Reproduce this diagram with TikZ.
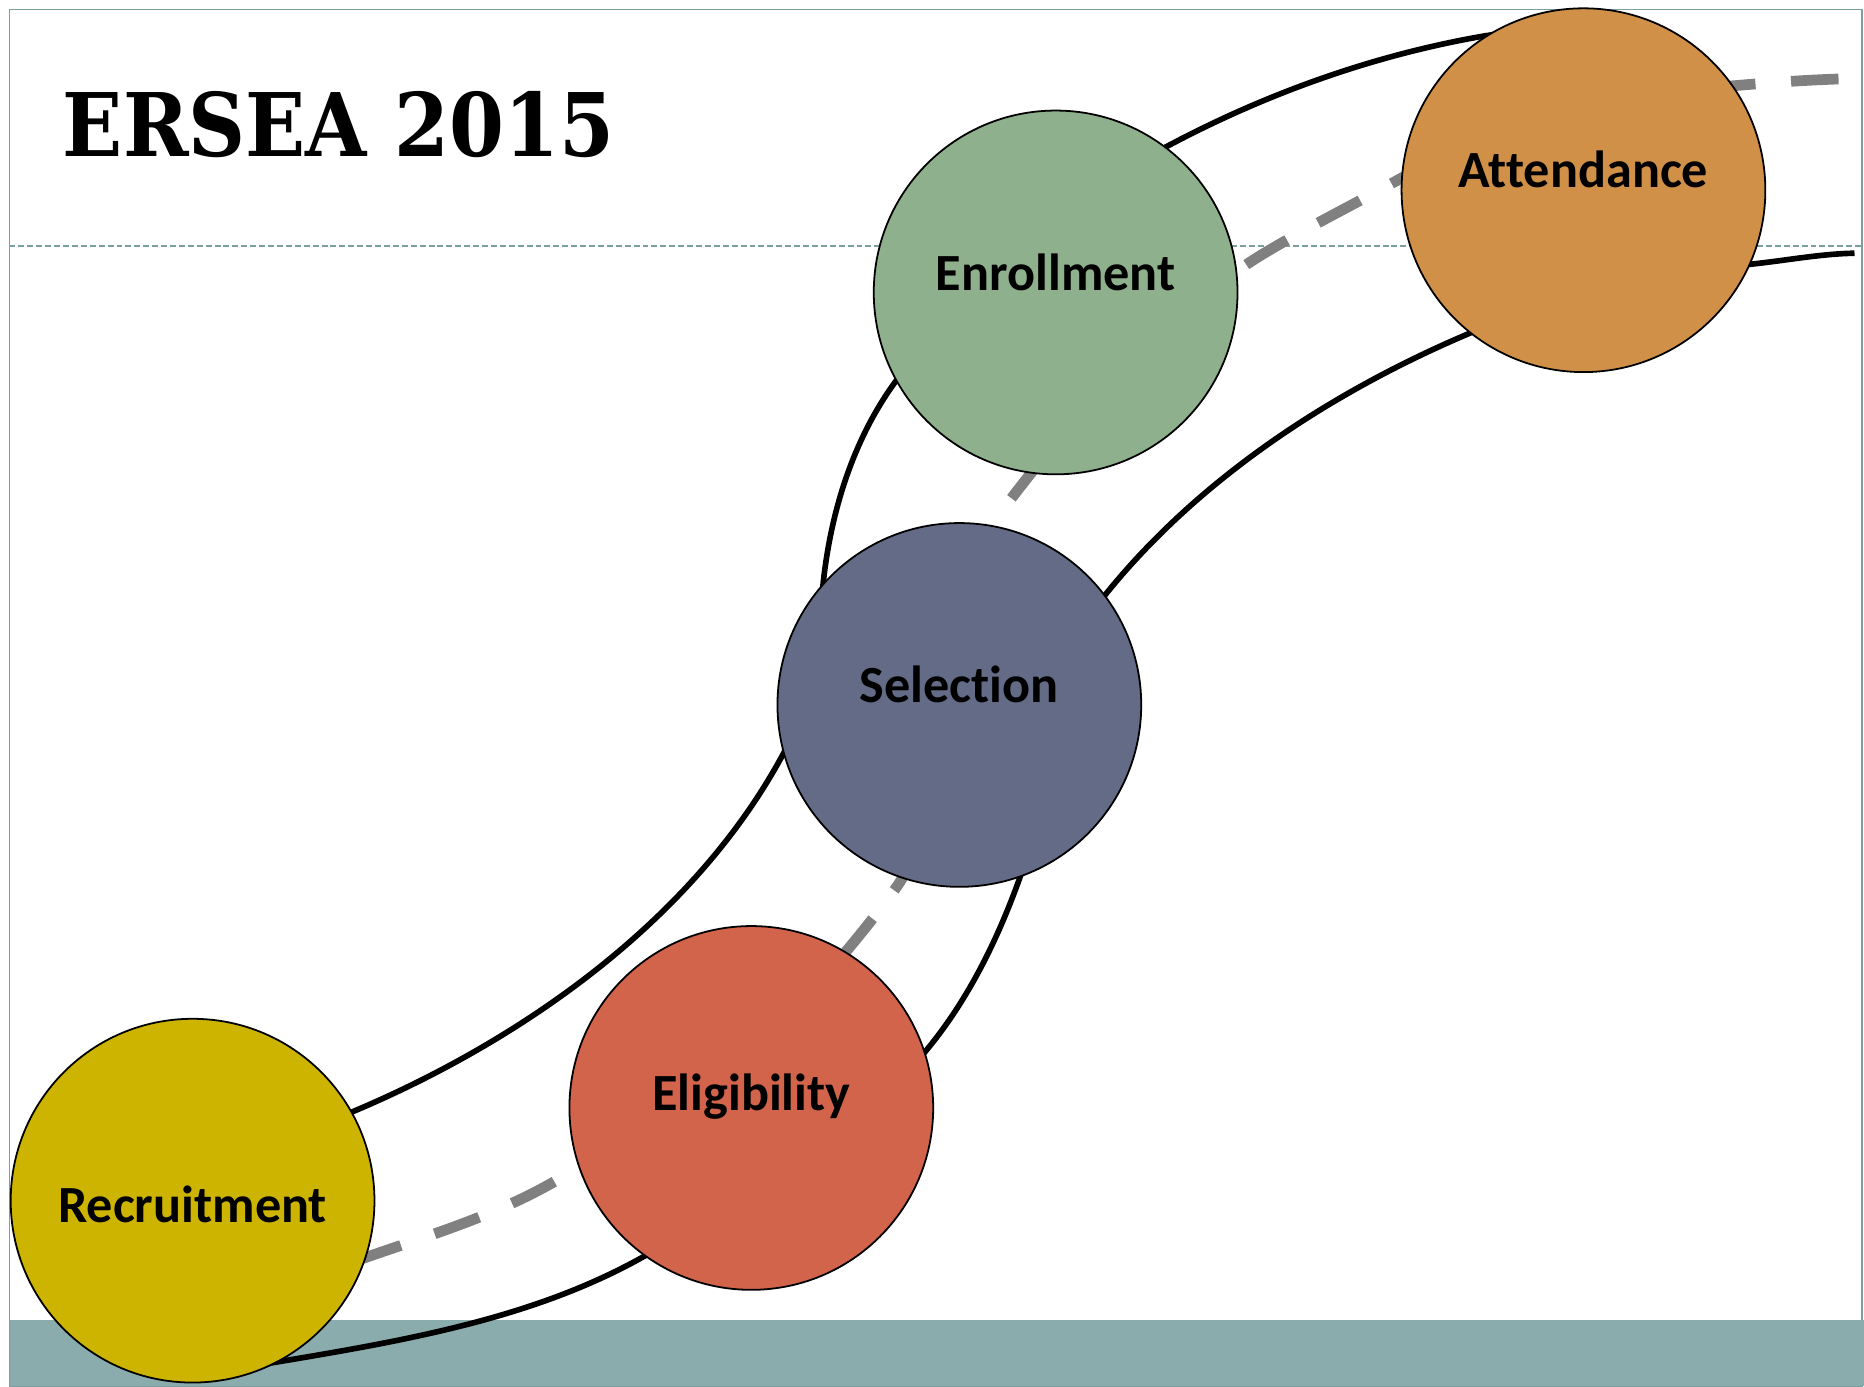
\documentclass[tikz,border=0pt]{standalone}
\usepackage{fontspec}
\setmainfont{Liberation Serif}
\newfontfamily\stagefont{Carlito}[Ligatures=NoCommon]
\newfontfamily\titlefont{DejaVu Serif Condensed}
\usepackage{tikz}
\usetikzlibrary{positioning}
\usetikzlibrary{calc}
\definecolor{recruitfill}{RGB}{205,180,0}
\definecolor{eligfill}{RGB}{209,100,74}
\definecolor{selectfill}{RGB}{99,107,134}
\definecolor{enrollfill}{RGB}{143,176,140}
\definecolor{attendfill}{RGB}{208,144,72}
\definecolor{bandteal}{RGB}{139,172,173}
\definecolor{framegray}{RGB}{125,158,158}
\definecolor{dashgray}{RGB}{128,128,128}
\tikzset{every picture/.style={line width=1pt}}

\begin{document}
\begin{tikzpicture}[x=0.2mm,y=-0.2mm,
every node/.style={inner sep=0pt},
stage/.style={circle, draw=black, line width=0.3mm, minimum size=61.2mm},
stagelbl/.style={anchor=base, font=\stagefont\bfseries\fontsize{25}{30}\selectfont},
rail/.style={line width=0.95mm, black},
midrail/.style={line width=1.8mm, dashgray, dash pattern=on 8mm off 6mm, dash phase=12mm}]

\useasboundingbox (0,0) rectangle (1568,1166);
\fill[white] (0,0) rectangle (1568,1166);

% slide frame, bottom band, header rule
\draw[framegray, line width=0.3mm] (8,8) rectangle (1566,1166);
\fill[bandteal] (8,1110) rectangle (1568,1166);
\draw[framegray, line width=0.3mm, dash pattern=on 1mm off 0.5mm] (8,207) -- (1568,207);

% outer rail
\draw[rail] (285,940) .. controls (435,879) and (584,775) .. (660,632)
  .. controls (680,596) and (688,540) .. (692,495)
  .. controls (698,433) and (717,370) .. (754,320)
  .. controls (814,240) and (892,171) .. (980,124)
  .. controls (1064,79) and (1156,46) .. (1250,30)
  -- (1320,20);

% inner rail
\draw[rail] (190,1153) .. controls (311,1132) and (439,1116) .. (545,1055)
  .. controls (628,1007) and (716,959) .. (778,885)
  .. controls (814,842) and (839,791) .. (858,738)
  .. controls (891,643) and (867,578) .. (930,500)
  .. controls (1009,402) and (1121,329) .. (1237,280)
  .. controls (1312,248) and (1393,231) .. (1475,222)
  .. controls (1503,219) and (1532,213.5) .. (1560,213);

% middle track
\draw[midrail] (290,1064) .. controls (351,1042) and (413,1025) .. (468,993)
  .. controls (558,941) and (648,882) .. (712,800)
  .. controls (727,782) and (743,762) .. (755,745)
  .. controls (811,662) and (775,520) .. (835,440)
  .. controls (898,356) and (968,273) .. (1057,217)
  .. controls (1092,195) and (1145,169) .. (1182,148)
  .. controls (1267,103) and (1364,80) .. (1460,72)
  .. controls (1495,69) and (1530,66.5) .. (1565,66);

% stages
\foreach \n/\x/\y/\c/\t/\dy in {recruit/162/1010/recruitfill/Recruitment/18,
  elig/632/932/eligfill/Eligibility/2,
  select/807/593/selectfill/Selection/-2,
  enroll/888/246/enrollfill/Enrollment/-2,
  attend/1332/160/attendfill/Attendance/-2}
{
 \node[stage, fill=\c] (\n) at (\x,\y) {};
 \node[stagelbl] (\n-lbl) at (\x,\y+\dy) {\t};
}

\node[anchor=base west, font=\titlefont\bfseries\fontsize{42}{50}\selectfont] (title) at (52,132) {ERSEA 2015};

\end{tikzpicture}
\end{document}
